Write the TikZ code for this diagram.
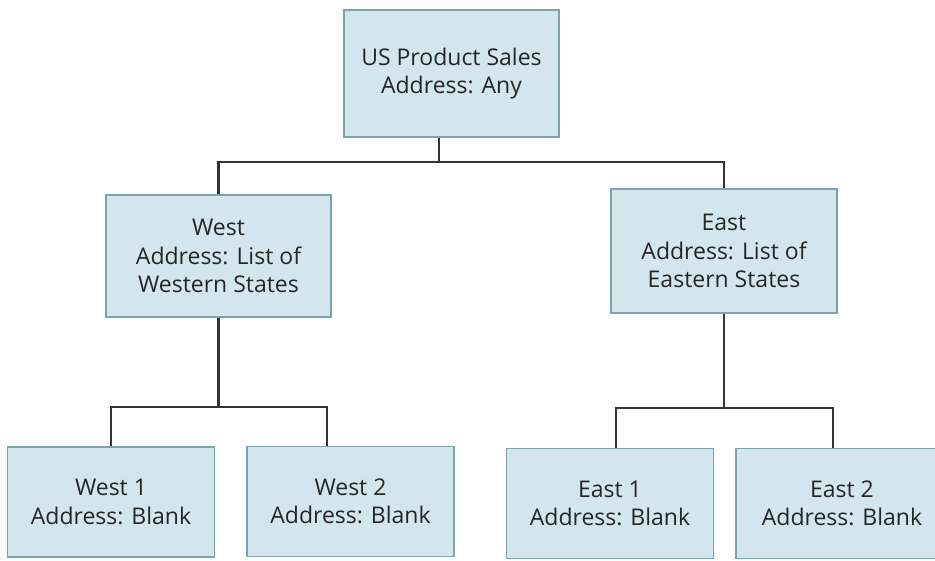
\documentclass[tikz,border=0pt]{standalone}
\usepackage{fontspec}
\setmainfont{Open Sans}
\definecolor{boxfill}{HTML}{D3E6ED}
\definecolor{boxline}{HTML}{7DA2AE}
\definecolor{busline}{HTML}{333333}

\begin{document}
\begin{tikzpicture}[x=1pt,y=1pt,line join=miter]
    \tikzstyle{unit}=[rectangle,draw=boxline,fill=boxfill,line width=1.5pt,align=center,
        inner sep=0pt,font=\fontsize{23}{28.5}\selectfont,text=black!85]
    \tikzstyle{bus}=[draw=busline,line width=2.8pt]

    \useasboundingbox (0,0) rectangle (935,-560);

    % Draw the top unit
    \node[unit,minimum width=215pt,minimum height=127pt] (us) at (451.5,-73.5)
        {US Product Sales\\Address: Any};

    % Draw the region units
    \node[unit,minimum width=225pt,minimum height=122pt] (west) at (218.5,-256)
        {West\\Address: List of\\Western States};
    \node[unit,minimum width=226pt,minimum height=124pt] (east) at (724,-251)
        {East\\Address: List of\\Eastern States};

    % Draw the bottom units
    \foreach \name/\x/\y/\txt in {w1/111/-502/West 1,w2/350.5/-501.5/West 2,
                                  e1/610/-503.5/East 1}
        \node[unit,minimum width=207pt,minimum height=110pt] (\name) at (\x,\y)
            {\txt\\Address: Blank};
    \node[unit,minimum width=212pt,minimum height=110pt] (e2) at (842,-503.5)
        {East 2\\Address: Blank};

    % Connect the units
    \coordinate (topbus) at (439,-162);
    \coordinate (westbus) at (217,-407);
    \coordinate (eastbus) at (724,-408);
    \path[bus] (us.south -| topbus) -- (topbus);
    \path[bus] (west.north) |- (topbus) -| (east.north);
    \path[bus] (west.south) -- (west.south |- westbus);
    \path[bus] (w1.north) |- (westbus) -| ([xshift=-23.5pt]w2.north);
    \path[bus] (east.south) -- (east.south |- eastbus);
    \path[bus] ([xshift=6pt]e1.north) |- (eastbus) -| ([xshift=-9pt]e2.north);

\end{tikzpicture}
\end{document}
